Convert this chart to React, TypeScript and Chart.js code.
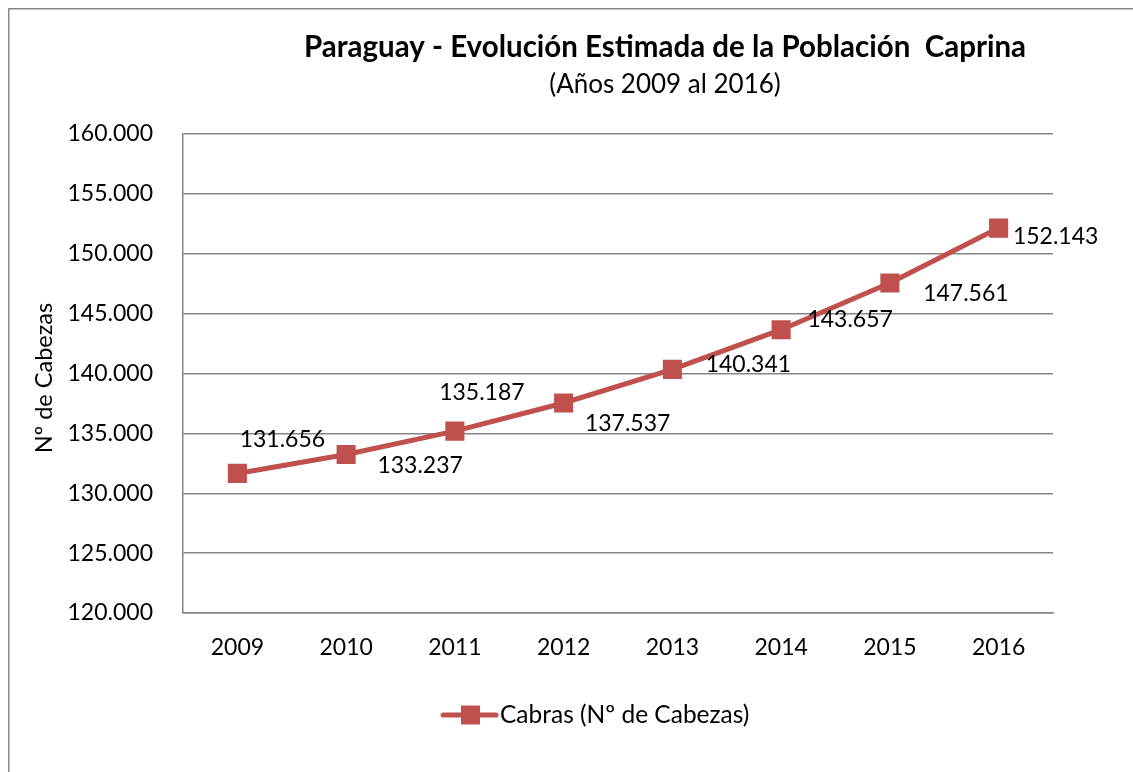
import React, { useEffect, useRef } from "react";
import { Chart, registerables } from "chart.js";

Chart.register(...registerables);

const YEARS = ["2009", "2010", "2011", "2012", "2013", "2014", "2015", "2016"];
const CABRAS = [131656, 133237, 135187, 137537, 140341, 143657, 147561, 152143];
const Y_MIN = 120000;
const Y_MAX = 160000;
const Y_STEP = 5000;

const TITLE = "Paraguay - Evolución Estimada de la Población  Caprina";
const SUBTITLE = "(Años 2009 al 2016)";
const Y_TITLE = "Nº de Cabezas";
const SERIES_LABEL = "Cabras (Nº de Cabezas)";

// label placement relative to each point (style only)
const LABEL_OFFSETS: [number, number][] = [
  [45, -34],
  [74, 11],
  [27, -39],
  [64, 21],
  [76, -5],
  [69, -10],
  [76, 11],
  [57, 8],
];

const RED = "#C0504D";
const GRID = "#868686";
const FONT = "Lato, 'Open Sans', sans-serif";

const fmt = (n: number) =>
  String(Math.round(n)).replace(/\B(?=(\d{3})+(?!\d))/g, ".");

const decorPlugin = {
  id: "decor",
  afterDatasetsDraw(chart: any) {
    const ctx = chart.ctx;
    const meta = chart.getDatasetMeta(0);
    ctx.save();
    ctx.fillStyle = "#000";
    ctx.textAlign = "center";
    ctx.textBaseline = "middle";
    ctx.font = `23px ${FONT}`;
    meta.data.forEach((pt: any, i: number) => {
      const [dx, dy] = LABEL_OFFSETS[i];
      ctx.fillText(fmt(CABRAS[i]), pt.x + dx, pt.y + dy);
    });
    ctx.restore();
  },
  afterDraw(chart: any) {
    const ctx = chart.ctx;
    ctx.save();
    // outer border
    ctx.strokeStyle = "#898989";
    ctx.lineWidth = 1.5;
    ctx.strokeRect(8.75, 8.75, 2000, 2000);

    ctx.fillStyle = "#000";
    ctx.textAlign = "center";
    ctx.textBaseline = "middle";
    ctx.font = `bold 29.5px ${FONT}`;
    ctx.fillText(TITLE, 665, 47);
    ctx.font = `26px ${FONT}`;
    ctx.fillText(SUBTITLE, 665, 85);

    // y-axis title
    ctx.save();
    ctx.translate(44, 378);
    ctx.rotate(-Math.PI / 2);
    ctx.font = `23.5px ${FONT}`;
    ctx.fillText(Y_TITLE, 0, 0);
    ctx.restore();

    // legend
    const ly = 715;
    ctx.strokeStyle = RED;
    ctx.lineWidth = 5;
    ctx.lineCap = "round";
    ctx.beginPath();
    ctx.moveTo(443, ly);
    ctx.lineTo(496, ly);
    ctx.stroke();
    ctx.fillStyle = RED;
    ctx.fillRect(461, ly - 9.5, 19, 19);
    ctx.fillStyle = "#000";
    ctx.textAlign = "left";
    ctx.font = `24.5px ${FONT}`;
    ctx.fillText(SERIES_LABEL, 500, ly);
    ctx.restore();
  },
};

export default function App() {
  const ref = useRef<HTMLCanvasElement>(null);
  useEffect(() => {
    if (!ref.current) return;
    const chart = new Chart(ref.current, {
      type: "line",
      data: {
        labels: YEARS,
        datasets: [
          {
            label: SERIES_LABEL,
            data: CABRAS,
            borderColor: RED,
            backgroundColor: RED,
            borderWidth: 5,
            pointStyle: "rect",
            pointRadius: 13.5,
            pointBorderWidth: 0,
            pointBackgroundColor: RED,
            tension: 0,
          },
        ],
      },
      options: {
        animation: false,
        responsive: false,
        maintainAspectRatio: false,
        layout: { padding: { top: 134, right: 80, left: 0, bottom: 0 } },
        plugins: {
          legend: { display: false },
          title: { display: false },
          tooltip: { enabled: false },
        },
        scales: {
          x: {
            offset: true,
            grid: { display: false, drawTicks: false },
            border: { display: true, color: GRID, width: 1.5 },
            ticks: {
              color: "#000",
              font: { family: FONT, size: 23 },
              padding: 21,
              maxRotation: 0,
            },
            afterFit: (s: any) => {
              s.height = 159;
            },
          },
          y: {
            min: Y_MIN,
            max: Y_MAX,
            grid: { color: GRID, lineWidth: 1.5, drawTicks: false },
            border: { display: true, color: GRID, width: 1.5 },
            ticks: {
              stepSize: Y_STEP,
              color: "#000",
              font: { family: FONT, size: 23 },
              padding: 30,
              callback: (v: any) => fmt(Number(v)),
            },
            afterFit: (s: any) => {
              s.width = 183;
            },
          },
        },
      },
      plugins: [decorPlugin],
    });
    return () => chart.destroy();
  }, []);
  return (
    <div style={{ position: "fixed", left: 0, top: 0, width: 1133, height: 772, background: "#fff" }}>
      <canvas ref={ref} width={1133} height={772} style={{ width: 1133, height: 772 }} />
    </div>
  );
}
